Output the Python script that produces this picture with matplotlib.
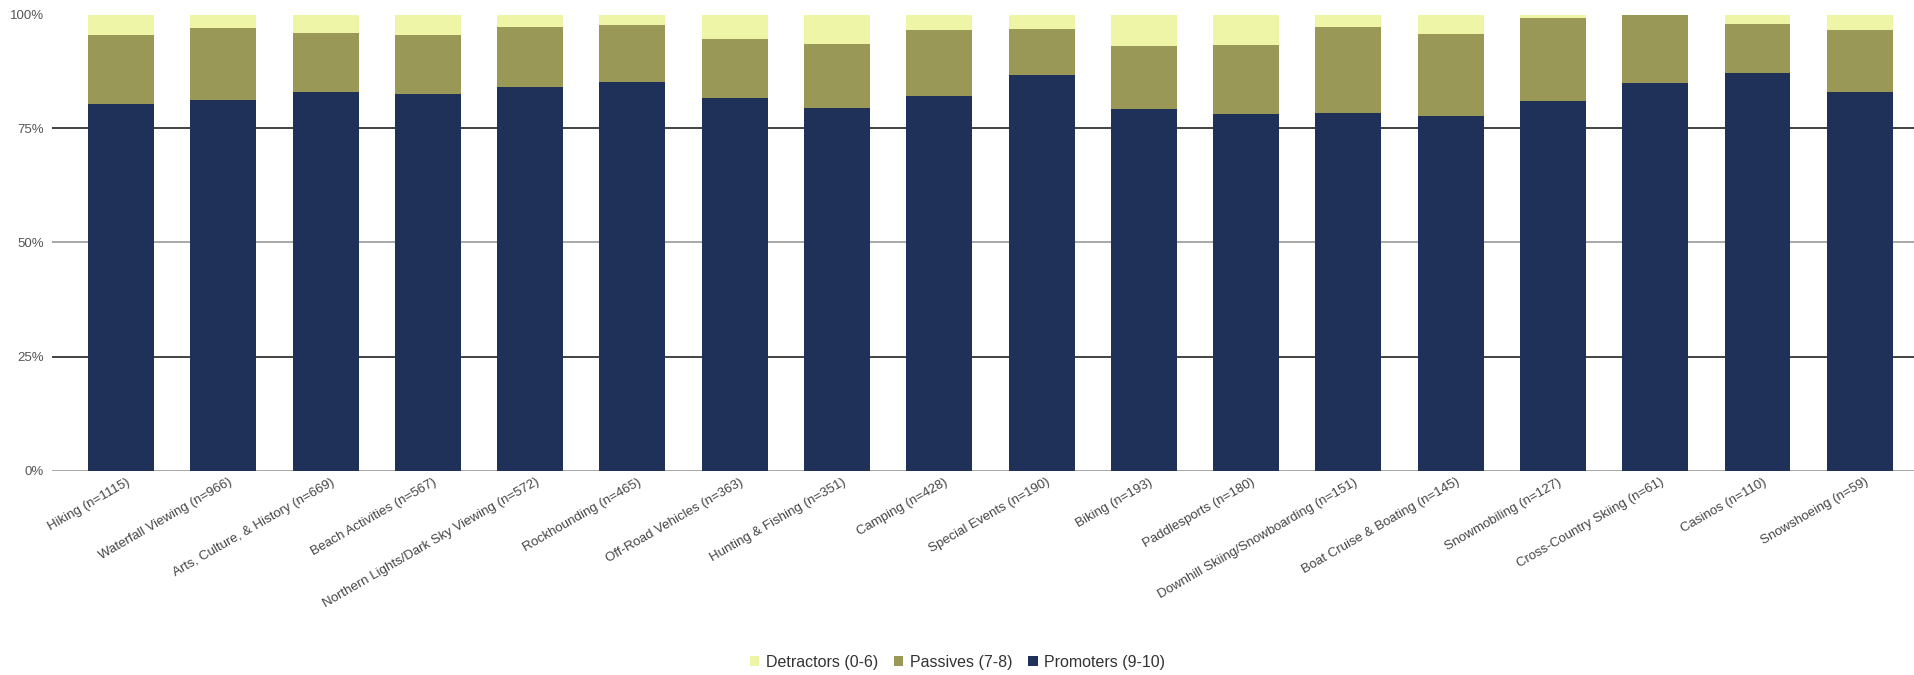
import numpy as np
import matplotlib
matplotlib.use('Agg')
import matplotlib.pyplot as plt
import matplotlib.transforms as mtransforms

plt.rcParams['font.family'] = ['Liberation Sans', 'DejaVu Sans']

# Activity categories (with sample sizes)
categories = [
    'Hiking (n=1115)', 'Waterfall Viewing (n=966)', 'Arts, Culture, & History (n=669)',
    'Beach Activities (n=567)', 'Northern Lights/Dark Sky Viewing (n=572)', 'Rockhounding (n=465)',
    'Off-Road Vehicles (n=363)', 'Hunting & Fishing (n=351)', 'Camping (n=428)',
    'Special Events (n=190)', 'Biking (n=193)', 'Paddlesports (n=180)',
    'Downhill Skiing/Snowboarding (n=151)', 'Boat Cruise & Boating (n=145)', 'Snowmobiling (n=127)',
    'Cross-Country Skiing (n=61)', 'Casinos (n=110)', 'Snowshoeing (n=59)',
]

# Share of respondents (%)
promoters = [80.3, 81.2, 83.0, 82.5, 84.0, 85.2, 81.7, 79.6, 82.2,
             86.8, 79.2, 78.1, 78.4, 77.8, 81.1, 85.0, 87.2, 82.9]
passives = [15.2, 15.9, 12.9, 13.0, 13.3, 12.5, 12.9, 13.9, 14.3,
            10.1, 13.9, 15.2, 18.9, 18.0, 18.1, 15.0, 10.8, 13.7]
detractors = [4.5, 2.9, 4.1, 4.5, 2.7, 2.3, 5.4, 6.5, 3.5,
              3.1, 6.9, 6.7, 2.7, 4.2, 0.8, 0.0, 2.0, 3.4]

series_names = ['Detractors (0-6)', 'Passives (7-8)', 'Promoters (9-10)']
c_det, c_pas, c_pro = '#eef5a6', '#9a9856', '#1f3158'

fig = plt.figure(figsize=(19.15, 6.75), dpi=100)
ax = fig.add_axes([52 / 1915, 1 - 470.5 / 675, 1 - 52 / 1915, (470.5 - 14.5) / 675])

x = np.arange(len(categories))
w = 0.645
pro = np.array(promoters)
pas = np.array(passives)
det = np.array(detractors)

b_pro = ax.bar(x, pro, w, color=c_pro, zorder=3)
b_pas = ax.bar(x, pas, w, bottom=pro, color=c_pas, zorder=3)
b_det = ax.bar(x, det, w, bottom=pro + pas, color=c_det, zorder=3)

# horizontal reference lines
for yv, col in [(0, '#9a9a9a'), (25, '#222222'), (50, '#9a9a9a'), (75, '#222222'), (100, '#9a9a9a')]:
    ax.axhline(yv, color=col, lw=1.2, zorder=1)

ax.set_xlim(-0.675, 17.54)
ax.set_ylim(0, 100)
ax.set_yticks([0, 25, 50, 75, 100])
ax.set_yticklabels(['0%', '25%', '50%', '75%', '100%'], fontsize=9.5, color='#555555')
ax.tick_params(axis='y', length=0, pad=6)
ax.tick_params(axis='x', length=0, pad=4)
ax.set_xticks(x)
ax.set_xticklabels(categories, rotation=30, ha='right', rotation_mode='anchor',
                   fontsize=9.5, color='#444444')
shift = mtransforms.ScaledTranslation(5 / 100, 0, fig.dpi_scale_trans)
for lbl in ax.get_xticklabels():
    lbl.set_transform(lbl.get_transform() + shift)
for s in ax.spines.values():
    s.set_visible(False)

fig.legend([b_det, b_pas, b_pro], series_names, loc='center', bbox_to_anchor=(0.5, 1 - 662 / 675),
           ncol=3, frameon=False, fontsize=11.5, handlelength=0.6, handleheight=0.6,
           handletextpad=0.4, columnspacing=1.0, labelcolor='#333333')

fig.savefig('out.png', dpi=100)
